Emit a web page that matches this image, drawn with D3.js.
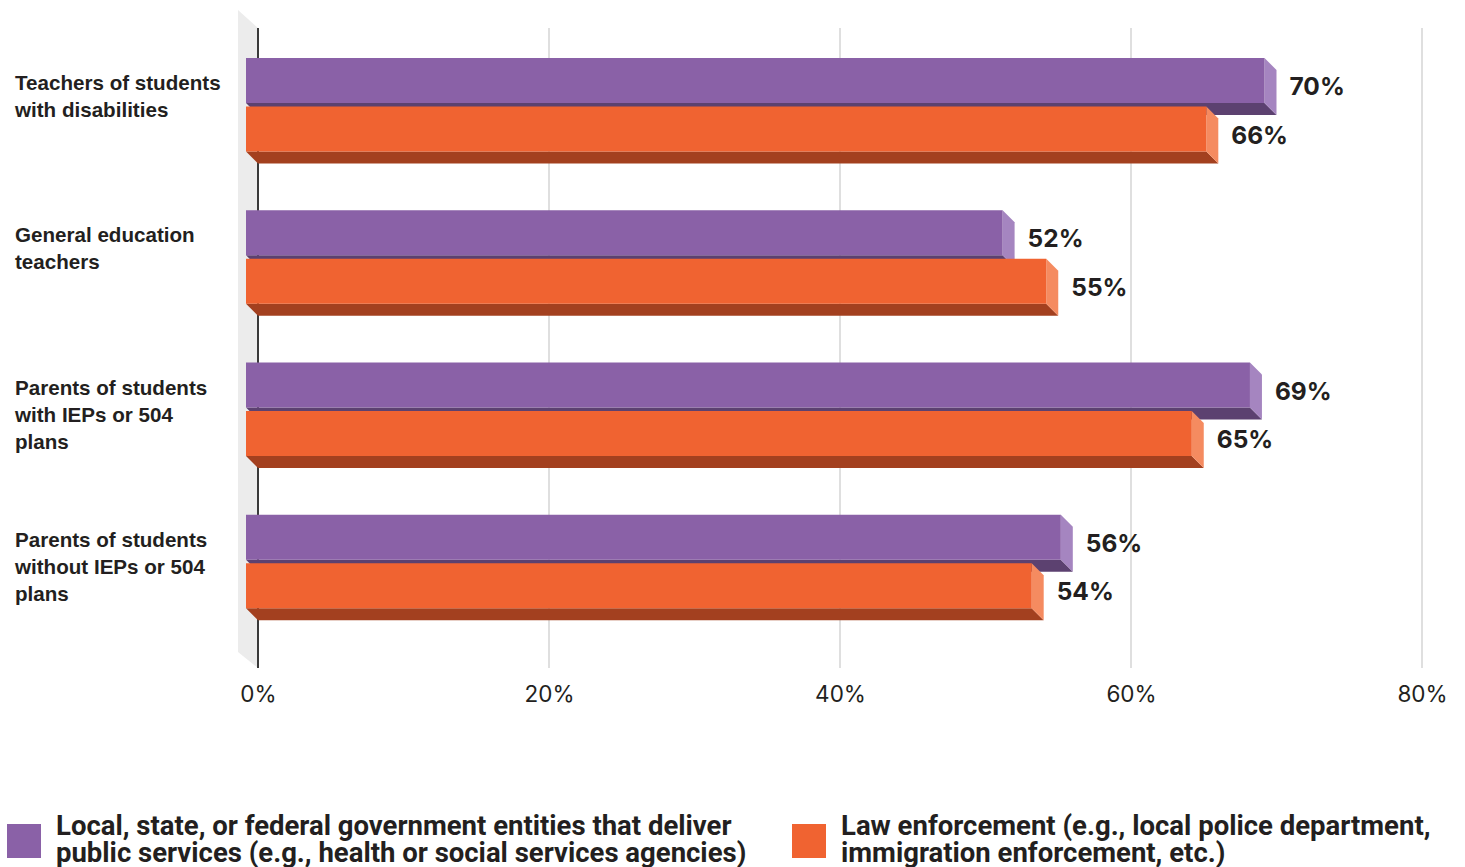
<!DOCTYPE html>
<html>
<head>
<meta charset="utf-8">
<script src="https://cdn.jsdelivr.net/npm/d3@7"></script>
<style>
  html, body { margin: 0; padding: 0; background: #fff; }
  svg { display: block; }
</style>
</head>
<body>
<svg id="chart" width="1465" height="867"></svg>
<script>
// Share of respondents, by group, for two kinds of agencies
const categories = [
  ["Teachers of students", "with disabilities"],
  ["General education", "teachers"],
  ["Parents of students", "with IEPs or 504", "plans"],
  ["Parents of students", "without IEPs or 504", "plans"]
];
const seriesNames = [
  ["Local, state, or federal government entities that deliver", "public services (e.g., health or social services agencies)"],
  ["Law enforcement (e.g., local police department,", "immigration enforcement, etc.)"]
];
const governmentValues = [70, 52, 69, 56];
const lawEnforcementValues = [66, 55, 65, 54];
const tickValues = [0, 20, 40, 60, 80];

const palette = [
  { front: "#8a61a7", bottom: "#5c4170", side: "#a585c0" },
  { front: "#f06331", bottom: "#a3401f", side: "#f58b60" }
];

const svg = d3.select("#chart");
const depth = 12;          // extrusion of the bars toward the lower right
const barH = 45;           // height of the bar's front face

const x = d3.scaleLinear().domain([0, 80]).range([258, 1422]);
const catKeys = categories.map((c, i) => i);
const yGroup = d3.scaleBand().domain(catKeys).range([58, 667]).padding(0);
const ySeries = d3.scaleBand().domain([0, 1]).range([0, 97]).padding(0);

const plotTop = 28, plotBottom = 668;
const labelFont = "'Liberation Sans', Arial, Helvetica, sans-serif";

// back wall on the left
svg.append("polygon")
  .attr("points", [[x(0) - 20, plotTop - 18], [x(0), plotTop], [x(0), plotBottom], [x(0) - 20, plotBottom - 16]].map(p => p.join(",")).join(" "))
  .attr("fill", "#ececec");

// vertical gridlines
svg.append("g").selectAll("line")
  .data(tickValues.filter(t => t > 0))
  .join("line")
  .attr("x1", d => x(d)).attr("x2", d => x(d))
  .attr("y1", plotTop).attr("y2", plotBottom)
  .attr("stroke", "#d4d4d4").attr("stroke-width", 1.5);

// baseline
svg.append("line")
  .attr("x1", x(0)).attr("x2", x(0))
  .attr("y1", plotTop).attr("y2", plotBottom)
  .attr("stroke", "#3a3a3a").attr("stroke-width", 2);

// x axis labels
const xAxis = d3.axisBottom(x).tickValues(tickValues).tickFormat(d => d + "%").tickSize(0).tickPadding(0);
const gx = svg.append("g").attr("transform", `translate(0, 686)`).call(xAxis);
gx.select(".domain").remove();
gx.selectAll("text")
  .attr("font-family", "Inter, 'Noto Sans', sans-serif")
  .attr("font-size", 22.5)
  .attr("fill", "#231f20");

// bars
const rows = [];
categories.forEach((c, i) => {
  rows.push({ cat: i, s: 0, v: governmentValues[i] });
  rows.push({ cat: i, s: 1, v: lawEnforcementValues[i] });
});

const bars = svg.append("g").selectAll("g.bar").data(rows).join("g").attr("class", "bar");
bars.each(function (d) {
  const g = d3.select(this);
  const y0 = yGroup(d.cat) + ySeries(d.s);
  const xl = x(0) - depth, xr = x(d.v) - depth;
  const col = palette[d.s];
  const pts = a => a.map(p => p.join(",")).join(" ");
  // bottom face
  g.append("polygon")
    .attr("points", pts([[xl, y0 + barH], [xr, y0 + barH], [xr + depth, y0 + barH + depth], [xl + depth, y0 + barH + depth]]))
    .attr("fill", col.bottom);
  // right end face
  g.append("polygon")
    .attr("points", pts([[xr, y0], [xr + depth, y0 + depth], [xr + depth, y0 + barH + depth], [xr, y0 + barH]]))
    .attr("fill", col.side);
  // front face
  g.append("rect")
    .attr("x", xl).attr("y", y0)
    .attr("width", xr - xl).attr("height", barH)
    .attr("fill", col.front);
  // value label
  g.append("text")
    .attr("x", x(d.v) + 13)
    .attr("y", y0 + (barH + depth) / 2)
    .attr("dy", "0.35em")
    .attr("font-family", "Inter, 'Noto Sans', sans-serif")
    .attr("font-weight", 700)
    .attr("font-size", 24.5)
    .attr("fill", "#231f20")
    .text(d.v + "%");
});

// category labels
const catG = svg.append("g").selectAll("text").data(categories).join("text")
  .attr("x", 15)
  .attr("y", (d, i) => yGroup(i) + 25)
  .attr("font-family", labelFont)
  .attr("font-weight", 700)
  .attr("font-size", 20.6)
  .attr("fill", "#231f20");
catG.selectAll("tspan").data(d => d).join("tspan")
  .attr("x", 15)
  .attr("dy", (d, j) => j === 0 ? "0.35em" : 27)
  .text(d => d);

// legend
const legendX = [7, 792];
const lg = svg.append("g").selectAll("g").data(seriesNames).join("g")
  .attr("transform", (d, i) => `translate(${legendX[i]}, 824)`);
lg.append("rect")
  .attr("width", 34).attr("height", 34)
  .attr("fill", (d, i) => palette[i].front);
const lt = lg.append("text")
  .attr("x", 49).attr("y", 1)
  .attr("font-family", "'Liberation Sans Narrow', 'Arial Narrow', 'Roboto', sans-serif")
  .attr("font-weight", 700)
  .attr("font-size", 27.5)
  .attr("fill", "#231f20");
lt.selectAll("tspan").data(d => d).join("tspan")
  .attr("x", 49)
  .attr("dy", (d, j) => j === 0 ? "0.35em" : 27)
  .text(d => d);
</script>
</body>
</html>
